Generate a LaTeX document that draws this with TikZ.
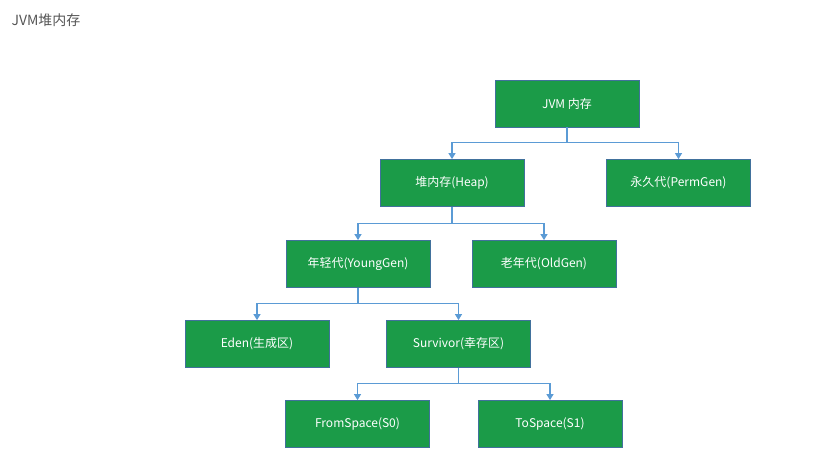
\documentclass[tikz,border=0pt]{standalone}
\usepackage{fontspec}
\usepackage{tikz}
\usetikzlibrary{arrows.meta}
\newfontfamily\cjk{Noto Sans CJK SC}
\definecolor{boxgreen}{HTML}{1B9B48}
\definecolor{boxline}{HTML}{41719C}
\definecolor{linkblue}{HTML}{5B9BD5}
\definecolor{titlegray}{HTML}{555555}
\tikzset{
  memblock/.style={draw=boxline, line width=0.8pt, fill=boxgreen, rectangle,
    minimum width=144pt, minimum height=47pt, inner sep=0pt,
    text=white, font=\cjk\fontsize{12}{14}\selectfont},
  link/.style={->,>={Triangle[length=6pt,width=7pt]},line width=1.1pt,linkblue}
}
\begin{document}
\begin{tikzpicture}[x=1pt,y=-1pt]
\useasboundingbox (0,0) rectangle (815,466);
\node[anchor=west, text=titlegray, font=\cjk\fontsize{14}{16}\selectfont] (title) at (8,20) {JVM堆内存};
\node[memblock] (jvm) at (567,103.5) {JVM 内存};
\node[memblock] (heap) at (452,183) {堆内存(Heap)};
\node[memblock] (perm) at (678.5,183) {永久代(PermGen)};
\node[memblock] (young) at (358,264) {年轻代(YoungGen)};
\node[memblock] (old) at (544,264) {老年代(OldGen)};
\node[memblock] (eden) at (257,344) {Eden(生成区)};
\node[memblock] (surv) at (458.5,344) {Survivor(幸存区)};
\node[memblock] (from) at (357.5,424) {FromSpace(S0)};
\node[memblock] (to) at (550,424) {ToSpace(S1)};
\draw [link] (jvm.south) -- ++(0,15) -| (heap.north);
\draw [link] (jvm.south) -- ++(0,15) -| (perm.north);
\draw [link] (heap.south) -- ++(0,17) -| (young.north);
\draw [link] (heap.south) -- ++(0,17) -| (old.north);
\draw [link] (young.south) -- ++(0,16) -| (eden.north);
\draw [link] (young.south) -- ++(0,16) -| (surv.north);
\draw [link] (surv.south) -- ++(0,16) -| (from.north);
\draw [link] (surv.south) -- ++(0,16) -| (to.north);
\end{tikzpicture}
\end{document}
